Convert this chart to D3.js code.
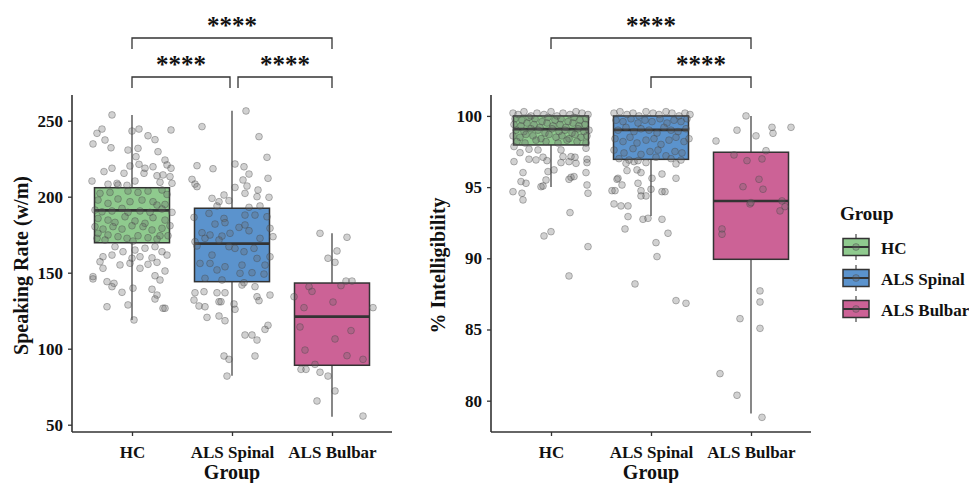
<!DOCTYPE html>
<html>
<head>
<meta charset="utf-8">
<script src="https://cdn.jsdelivr.net/npm/d3@7"></script>
<style>
  body { margin: 0; background: #fff; }
  text { font-family: "Liberation Serif", "Times New Roman", serif; }
</style>
</head>
<body>
<svg id="chart" width="969" height="483"></svg>
<script>
const groups = ["HC", "ALS Spinal", "ALS Bulbar"];
const groupColors = ["#8fca8e", "#5b93cd", "#cc6296"];

// box stats (low whisker, q1, median, q3, high whisker)
const rateLow = [118.9, 82.2, 55.3];
const rateQ1 = [169.7, 144.1, 89.1];
const rateMedian = [191.0, 169.1, 121.1];
const rateQ3 = [205.9, 192.4, 143.2];
const rateHigh = [253.8, 256.6, 175.9];

const intelLow = [95.0, 92.97, 79.1];
const intelQ1 = [97.96, 96.95, 89.93];
const intelMedian = [99.07, 99.02, 94.03];
const intelQ3 = [100, 100, 97.45];
const intelHigh = [100, 100, 100];

const rateTicks = [50, 100, 150, 200, 250];
const intelTicks = [80, 85, 90, 95, 100];

// jittered points: [offset in category units, value]
const rateHC = [
  [-0.20,253.8],[-0.30,244.5],[-0.35,241.7],[-0.39,234.7],[-0.27,237.3],[-0.21,232.2],[0.00,243.2],[0.07,244.5],
  [0.16,240.1],[0.23,237.5],[0.39,243.9],[-0.04,230.7],[0.06,231.8],[0.26,229.6],[0.04,226.3],[0.33,224.1],
  [-0.02,220.2],[0.07,221.3],[0.13,218.7],[0.21,219.7],[0.35,220.9],[0.39,218.7],[-0.20,218.7],[-0.28,216.5],
  [-0.08,215.4],[0.12,215.4],[0.25,213.8],[0.31,214.3],[0.38,213.2],[-0.40,210.3],[0.03,210.3],[0.40,208.8],
  [-0.15,208.8],[-0.24,208.2],[-0.05,207.5],[0.28,209.5],
  [-0.32,202.2],[-0.22,202.8],[-0.14,207.7],[-0.04,203.7],[0.06,202.8],[0.16,203.7],[0.30,204.4],[0.35,201.5],
  [-0.34,197.8],[-0.24,195.6],[-0.14,198.5],[-0.02,196.7],[0.10,197.8],[0.21,196.7],[0.25,194.5],[0.33,194.9],
  [-0.37,191.2],[-0.30,190.1],[-0.20,190.6],[-0.10,192.3],[-0.04,189.7],[0.08,190.6],[0.18,189.7],[0.30,191.9],
  [0.40,189.7],[-0.34,185.7],[-0.24,184.6],[-0.17,183.1],[-0.07,186.8],[0.03,184.0],[0.13,182.5],[0.21,186.2],
  [0.33,184.6],[-0.37,180.3],[-0.29,178.7],[-0.19,180.3],[-0.10,178.7],[0.00,180.9],[0.11,180.3],[0.20,178.1],
  [0.30,179.2],[0.38,180.9],[-0.34,175.9],[-0.24,174.8],[-0.14,173.7],[-0.05,172.6],[0.06,174.3],[0.16,173.0],
  [0.25,172.1],[0.36,174.3],[-0.35,172.6],[-0.27,171.5],[0.01,170.8],[0.28,174.3],
  [-0.17,167.1],[-0.09,163.8],[0.03,164.9],[0.13,166.1],[0.23,167.1],[0.30,163.8],[-0.29,160.5],[-0.20,161.6],
  [0.00,159.5],[0.08,160.5],[0.20,159.8],[0.35,161.6],[-0.32,157.2],[-0.12,155.1],[-0.02,156.2],[0.08,152.9],
  [0.16,155.5],[0.25,156.8],[-0.29,152.9],[0.33,151.1],[-0.39,147.4],[-0.39,145.9],[-0.25,144.1],[-0.18,143.0],
  [-0.20,140.8],[0.23,148.0],[0.28,145.2],[0.01,139.8],[0.20,139.1],[-0.10,137.1],[0.25,135.3],[0.23,132.7],
  [-0.25,127.6],[-0.04,128.8],[0.31,126.6],[0.33,126.6],[0.02,118.9]
];
const rateSpinal = [
  [0.14,256.4],[-0.30,246.1],[0.27,239.5],[0.35,225.9],[-0.35,220.4],[-0.19,218.4],[0.03,221.5],[0.12,219.7],
  [0.17,214.9],[-0.40,211.4],[-0.37,208.3],[-0.35,206.6],[0.03,206.1],[0.11,211.0],[0.15,207.0],[0.26,204.4],
  [0.36,212.1],[-0.20,198.9],[-0.13,196.7],[-0.08,201.1],[-0.03,197.4],[0.13,202.2],[0.25,200.0],[0.37,199.6],
  [-0.15,193.9],[0.17,193.0],[0.28,193.9],
  [-0.23,189.0],[-0.08,185.7],[0.13,187.9],[0.23,187.9],[0.35,186.8],[-0.38,186.4],[-0.17,182.0],[-0.07,182.9],
  [0.07,179.8],[0.13,181.4],[-0.30,176.3],[-0.22,174.8],[-0.10,174.1],[-0.02,175.9],[0.17,177.6],[0.28,172.6],
  [0.41,173.7],[-0.37,170.4],[-0.13,171.5],[-0.03,167.1],[0.03,166.0],[0.22,166.0],[-0.20,161.6],[0.12,163.8],
  [0.25,159.4],[0.38,160.5],[-0.32,156.1],[-0.22,156.1],[-0.07,153.9],[0.10,155.0],[0.33,155.0],[-0.15,151.8],
  [0.08,149.6],[0.20,150.0],[0.32,149.1],[-0.27,146.3],[-0.10,145.2],[0.12,143.4],[-0.35,167.6],[0.38,179.2],
  [-0.27,172.6],
  [-0.37,136.8],[-0.28,137.5],[-0.15,136.8],[-0.07,136.8],[0.10,141.9],[0.23,140.8],[0.38,135.3],[-0.38,132.0],
  [-0.33,128.1],[-0.27,127.6],[-0.13,130.9],[-0.11,130.9],[0.02,129.4],[0.03,125.9],[0.25,134.2],[0.27,131.6],
  [-0.25,120.6],[-0.13,121.5],[-0.07,118.4],[0.13,109.0],[0.20,109.0],[0.25,105.7],[0.33,112.7],[0.36,115.4],
  [-0.08,95.2],[-0.03,93.0],[0.23,95.2],[-0.05,82.0]
];
const rateBulbar = [
  [-0.12,175.9],[0.15,173.3],[0.05,164.3],[-0.04,159.5],[0.03,156.8],[0.14,144.5],[0.20,144.5],[-0.23,140.8],
  [-0.20,137.7],[0.09,141.5],[-0.38,134.2],[0.01,130.7],[-0.28,127.0],[0.41,127.0],[-0.32,114.3],[0.19,111.9],
  [0.03,106.4],[-0.27,99.1],[0.15,95.4],[0.31,93.0],[-0.17,89.7],[-0.31,86.4],[-0.26,86.4],[-0.12,84.5],
  [-0.04,82.0],[0.03,72.2],[-0.15,65.6],[0.31,55.7]
];

const intelHC = [
  [-0.38,100.2],[-0.33,100.1],[-0.27,100.3],[-0.20,100.0],[-0.14,100.2],[-0.07,100.1],[0.00,100.3],[0.06,100.0],
  [0.12,100.2],[0.19,100.1],[0.25,100.3],[0.31,100.2],[0.37,100.1],
  [-0.36,99.8],[-0.29,99.7],[-0.22,99.9],[-0.16,99.8],[-0.09,99.6],[-0.03,99.9],[0.04,99.7],[0.10,99.8],
  [0.17,99.6],[0.23,99.9],[0.29,99.7],[0.35,99.8],
  [-0.37,99.4],[-0.30,99.3],[-0.24,99.5],[-0.17,99.4],[-0.11,99.2],[-0.04,99.5],[0.02,99.3],[0.09,99.4],
  [0.15,99.2],[0.22,99.5],[0.28,99.3],[0.34,99.4],
  [-0.35,99.0],[-0.27,98.9],[-0.20,99.1],[-0.13,99.0],[-0.06,98.8],[0.01,99.1],[0.08,98.9],[0.14,99.0],
  [0.21,98.8],[0.27,99.1],[0.33,98.9],[0.38,99.0],
  [-0.38,98.6],[-0.31,98.5],[-0.25,98.7],[-0.18,98.6],[-0.10,98.4],[-0.02,98.7],[0.05,98.5],[0.11,98.6],
  [0.18,98.4],[0.24,98.7],[0.30,98.5],[0.36,98.6],
  [-0.34,98.2],[-0.26,98.1],[-0.15,98.3],[-0.05,98.2],[0.07,98.1],[0.16,98.3],[0.26,98.2],[0.35,98.1],
  [-0.37,97.85],[-0.31,97.42],[-0.22,97.66],[-0.13,97.61],[-0.37,96.79],[-0.22,96.96],[-0.15,96.91],[-0.08,97.10],
  [-0.04,96.86],[0.10,97.61],[0.12,97.14],[0.10,96.72],[0.18,96.79],[0.20,97.14],[0.24,97.10],[0.25,96.67],
  [0.36,96.96],[0.36,96.72],[0.35,97.73],[-0.28,96.02],[-0.03,96.09],[0.03,96.21],[0.35,96.02],[0.20,95.69],
  [0.23,95.74],[-0.30,95.39],[-0.25,95.27],[-0.05,95.50],[-0.10,95.03],[-0.08,95.08],[0.18,95.55],[-0.38,94.68],
  [-0.29,94.57],[-0.28,94.10],[0.36,95.15],[0.37,94.57],[0.19,93.21],[-0.07,91.57],[0.00,91.87],[0.37,90.82],
  [0.18,88.76]
];
const intelSpinal = [
  [-0.37,100.2],[-0.31,100.3],[-0.24,100.1],[-0.18,100.2],[-0.12,100.0],[-0.05,100.3],[0.02,100.2],[0.08,100.1],
  [0.15,100.3],[0.21,100.2],[0.28,100.0],[0.34,100.2],[0.39,100.1],
  [-0.35,99.7],[-0.28,99.6],[-0.20,99.8],[-0.13,99.5],[-0.06,99.7],[0.01,99.6],[0.09,99.8],[0.16,99.5],
  [0.23,99.7],[0.30,99.6],[0.36,99.8],
  [-0.33,99.0],[-0.25,99.2],[-0.17,98.9],[-0.10,99.1],[-0.02,99.0],[0.06,98.8],[0.13,99.2],[0.20,99.0],
  [0.27,98.9],[0.35,99.1],
  [-0.36,98.4],[-0.28,98.2],[-0.21,98.5],[-0.14,98.1],[-0.05,98.3],[0.03,98.4],[0.10,98.0],[0.18,98.3],
  [0.25,98.5],[0.33,98.2],[0.38,98.4],
  [-0.37,97.6],[-0.27,97.4],[-0.18,97.7],[-0.10,97.3],[-0.01,97.5],[0.07,97.6],[0.15,97.2],[0.24,97.5],
  [0.31,97.4],[-0.32,97.0],[-0.22,96.9],[0.05,97.1],[0.20,97.0],[0.30,96.9],
  [-0.25,96.67],[-0.17,96.79],[-0.13,96.86],[-0.05,96.72],[0.25,96.63],[-0.24,96.16],[-0.14,96.21],[-0.10,96.02],
  [0.11,95.92],[0.25,95.62],[0.01,95.62],[-0.33,95.62],[-0.34,95.55],[-0.29,95.15],[-0.39,94.75],[-0.36,94.75],
  [-0.13,95.27],[-0.10,94.75],[0.00,94.85],[-0.10,94.38],[-0.05,94.38],[0.11,94.68],[0.14,94.68],[-0.37,93.82],
  [-0.30,93.68],[-0.23,93.68],[-0.23,92.93],[-0.08,92.74],[-0.03,92.81],[0.11,92.74],[-0.26,92.06],[0.17,91.76],
  [0.05,91.10],[0.06,90.12],[-0.16,88.20],[0.25,87.03],[0.35,86.84]
];
const intelBulbar = [
  [-0.05,100.0],[0.21,99.2],[0.40,99.2],[0.05,98.6],[-0.14,99.0],[0.22,98.78],[-0.35,98.24],[0.15,97.56],
  [-0.17,97.26],[-0.04,96.86],[0.11,96.98],[0.08,95.55],[-0.08,95.03],[0.12,94.85],[-0.01,93.82],[0.00,93.91],
  [0.31,94.03],[0.34,93.63],[0.29,93.33],[-0.29,92.06],[-0.29,91.69],[0.09,87.71],[0.09,86.93],[-0.11,85.76],
  [0.09,85.08],[-0.31,81.90],[-0.14,80.38],[0.11,78.83]
];

const comparisonsRate = [
  { a: "HC", b: "ALS Spinal", label: "****", level: 0 },
  { a: "ALS Spinal", b: "ALS Bulbar", label: "****", level: 0 },
  { a: "HC", b: "ALS Bulbar", label: "****", level: 1 }
];
const comparisonsIntel = [
  { a: "ALS Spinal", b: "ALS Bulbar", label: "****", level: 0 },
  { a: "HC", b: "ALS Bulbar", label: "****", level: 1 }
];

const svg = d3.select("#chart");
svg.append("rect").attr("width", 969).attr("height", 483).attr("fill", "#fff");

const plotTop = 95, plotBottom = 432, plotW = 320;
const ink = "#333333";

function drawPanel(opt) {
  const x = d3.scalePoint().domain(groups).range([opt.left, opt.left + plotW]).padding(0.6);
  const step = x.step();
  const y = d3.scaleLinear().domain(opt.domain).range([plotBottom, plotTop]);
  const g = svg.append("g");
  const boxW = step * 0.75;

  // whiskers
  groups.forEach((grp, i) => {
    g.append("line")
      .attr("x1", x(grp)).attr("x2", x(grp))
      .attr("y1", y(opt.high[i])).attr("y2", y(opt.low[i]))
      .attr("stroke", "#555").attr("stroke-width", 1.4);
  });
  // boxes
  groups.forEach((grp, i) => {
    g.append("rect")
      .attr("x", x(grp) - boxW / 2).attr("width", boxW)
      .attr("y", y(opt.q3[i])).attr("height", y(opt.q1[i]) - y(opt.q3[i]))
      .attr("fill", groupColors[i]).attr("stroke", ink).attr("stroke-width", 1.5);
    g.append("line")
      .attr("x1", x(grp) - boxW / 2).attr("x2", x(grp) + boxW / 2)
      .attr("y1", y(opt.median[i])).attr("y2", y(opt.median[i]))
      .attr("stroke", ink).attr("stroke-width", 2.6);
  });
  // jittered points
  opt.points.forEach((pts, i) => {
    g.append("g").selectAll("circle").data(pts).join("circle")
      .attr("cx", d => x(groups[i]) + d[0] * step)
      .attr("cy", d => y(d[1]))
      .attr("r", 3.4)
      .attr("fill", "#666").attr("fill-opacity", 0.3)
      .attr("stroke", "#444").attr("stroke-opacity", 0.4).attr("stroke-width", 0.9);
  });

  // axes
  const yAxis = g.append("g").attr("transform", `translate(${opt.left},0)`)
    .call(d3.axisLeft(y).tickValues(opt.ticks).tickSize(4).tickPadding(5));
  yAxis.select(".domain").attr("d", `M0,${plotTop}V${plotBottom}`);
  const xAxis = g.append("g").attr("transform", `translate(0,${plotBottom})`)
    .call(d3.axisBottom(x).tickSize(4).tickPadding(6));
  xAxis.select(".domain").attr("d", `M${opt.left},0H${opt.left + plotW}`);
  [yAxis, xAxis].forEach(ax => {
    ax.select(".domain").attr("stroke", ink).attr("stroke-width", 1.6);
    ax.selectAll(".tick line").attr("stroke", ink).attr("stroke-width", 1.3);
    ax.selectAll(".tick text")
      .attr("fill", "#111").style("font-family", "Liberation Serif")
      .style("font-weight", "bold").style("font-size", "17px");
  });
  xAxis.selectAll(".tick text").attr("dy", "0.95em");

  // axis titles
  g.append("text")
    .attr("x", opt.left + plotW / 2).attr("y", 479)
    .attr("text-anchor", "middle")
    .style("font-weight", "bold").style("font-size", "20px").attr("fill", "#111")
    .text("Group");
  g.append("text")
    .attr("transform", `translate(${opt.titleX},${(plotTop + plotBottom) / 2 + 2}) rotate(-90)`)
    .attr("text-anchor", "middle")
    .style("font-weight", "bold").style("font-size", "20px").attr("fill", "#111")
    .text(opt.title);

  // significance brackets
  opt.comparisons.forEach(c => {
    const by = plotTop - 18 - c.level * 39;
    let x1 = x(c.a), x2 = x(c.b);
    // small gap where two same-level brackets meet
    opt.comparisons.forEach(o => {
      if (o === c || o.level !== c.level) return;
      if (o.b === c.a) x1 += 6;
      if (o.a === c.b) x2 -= 2;
    });
    g.append("path")
      .attr("d", `M${x1},${by + 11}V${by}H${x2}V${by + 11}`)
      .attr("fill", "none").attr("stroke", ink).attr("stroke-width", 1.3);
    g.append("text")
      .attr("x", (x1 + x2) / 2).attr("y", by - 4)
      .attr("text-anchor", "middle")
      .style("font-size", "25px").style("font-weight", "bold").attr("fill", "#111")
      .text(c.label);
  });
}

drawPanel({
  left: 72, domain: [45.2, 266.9], ticks: rateTicks,
  low: rateLow, q1: rateQ1, median: rateMedian, q3: rateQ3, high: rateHigh,
  points: [rateHC, rateSpinal, rateBulbar],
  title: "Speaking Rate (w/m)", titleX: 28,
  comparisons: comparisonsRate
});

drawPanel({
  left: 491, domain: [77.8, 101.47], ticks: intelTicks,
  low: intelLow, q1: intelQ1, median: intelMedian, q3: intelQ3, high: intelHigh,
  points: [intelHC, intelSpinal, intelBulbar],
  title: "% Intelligibility", titleX: 445,
  comparisons: comparisonsIntel
});

// legend
const legend = svg.append("g").attr("transform", "translate(840,0)");
legend.append("text").attr("x", 0).attr("y", 220)
  .style("font-weight", "bold").style("font-size", "19px").attr("fill", "#111")
  .text("Group");
groups.forEach((grp, i) => {
  const cy = 247 + i * 31;
  const k = legend.append("g");
  k.append("line").attr("x1", 16).attr("x2", 16).attr("y1", cy - 13).attr("y2", cy + 13)
    .attr("stroke", "#555").attr("stroke-width", 1.3);
  k.append("rect").attr("x", 3).attr("y", cy - 8.5).attr("width", 26).attr("height", 17)
    .attr("fill", groupColors[i]).attr("stroke", ink).attr("stroke-width", 1.5);
  k.append("line").attr("x1", 3).attr("x2", 29).attr("y1", cy).attr("y2", cy)
    .attr("stroke", ink).attr("stroke-width", 2);
  k.append("circle").attr("cx", 16).attr("cy", cy).attr("r", 3.4)
    .attr("fill", "#666").attr("fill-opacity", 0.3)
    .attr("stroke", "#444").attr("stroke-opacity", 0.4);
  legend.append("text").attr("x", 41).attr("y", cy + 6.5)
    .style("font-weight", "bold").style("font-size", "17px").attr("fill", "#111")
    .text(grp);
});
</script>
</body>
</html>
